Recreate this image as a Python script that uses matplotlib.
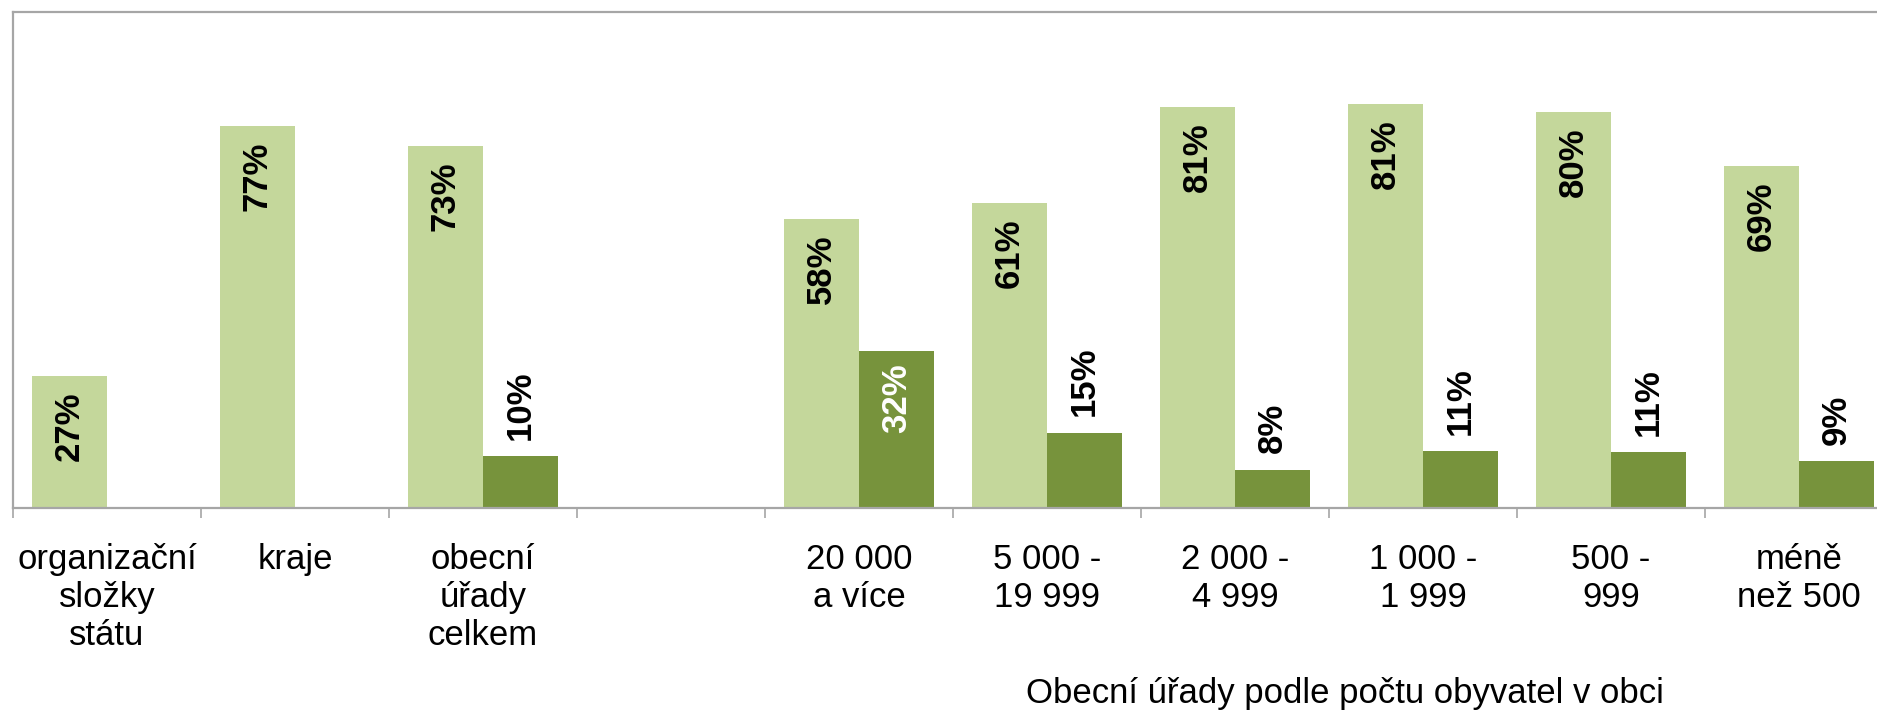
import numpy as np
import matplotlib
matplotlib.use("Agg")
import matplotlib.pyplot as plt

categories = ["organizační\nsložky\nstátu", "kraje", "obecní\núřady\ncelkem", "",
              "20 000\na více", "5 000 -\n19 999", "2 000 -\n4 999",
              "1 000 -\n1 999", "500 -\n999", "méně\nnež 500"]
light_values = [26.6, 77.0, 73.0, np.nan, 58.3, 61.4, 80.8, 81.4, 79.8, 68.9]
dark_values = [np.nan, np.nan, 10.4, np.nan, 31.7, 15.1, 7.7, 11.4, 11.2, 9.4]
axis_title = "Obecní úřady podle počtu obyvatel v obci"

light_color = "#C4D79B"
dark_color = "#77933C"
grey = "#A6A6A6"

plt.rcParams['font.family'] = ['Liberation Sans', 'DejaVu Sans']

W, H = 1877, 711
fig = plt.figure(figsize=(W / 100, H / 100), dpi=100)
# axes runs a bit past the right edge, like the reference
ax = fig.add_axes([13 / W, (H - 508) / H, 1880 / W, 496 / H])

x = np.arange(len(categories))
bw = 0.4
b1 = ax.bar(x - bw / 2, light_values, bw, color=light_color)
b2 = ax.bar(x + bw / 2, dark_values, bw, color=dark_color)

for rect, v in zip(b1, light_values):
    if np.isnan(v):
        continue
    ax.annotate(f"{v:.0f}%", (rect.get_x() + rect.get_width() / 2, v),
                xytext=(0, -11), textcoords="offset points", rotation=90,
                ha="center", va="top", fontsize=25, fontweight="bold", color="black")

for rect, v in zip(b2, dark_values):
    if np.isnan(v):
        continue
    if v > 25:
        ax.annotate(f"{v:.0f}%", (rect.get_x() + rect.get_width() / 2, v),
                    xytext=(0, -9), textcoords="offset points", rotation=90,
                    ha="center", va="top", fontsize=25, fontweight="bold", color="white")
    else:
        ax.annotate(f"{v:.0f}%", (rect.get_x() + rect.get_width() / 2, v),
                    xytext=(0, 12), textcoords="offset points", rotation=90,
                    ha="center", va="bottom", fontsize=25, fontweight="bold", color="black")

ax.set_xlim(-0.5, len(categories) - 0.5)
ax.set_ylim(0, 100)
ax.set_yticks([])

ax.set_xticks(x)
ax.set_xticklabels(categories, fontsize=25, linespacing=1.2)
ax.set_xticks(np.arange(len(categories) + 1) - 0.5, minor=True)
ax.tick_params(axis="x", which="major", length=0, pad=25)
ax.tick_params(axis="x", which="minor", length=7, width=1.2, color=grey, direction="out")

for side in ["left", "top", "bottom"]:
    ax.spines[side].set_color(grey)
    ax.spines[side].set_linewidth(1.6)
ax.spines["right"].set_visible(False)

ax.set_xlabel(axis_title, fontsize=25)
ax.xaxis.set_label_coords((1345 - 13) / 1880, -0.375)
ax.xaxis.label.set_va("center")

fig.savefig("out.png", dpi=100)
